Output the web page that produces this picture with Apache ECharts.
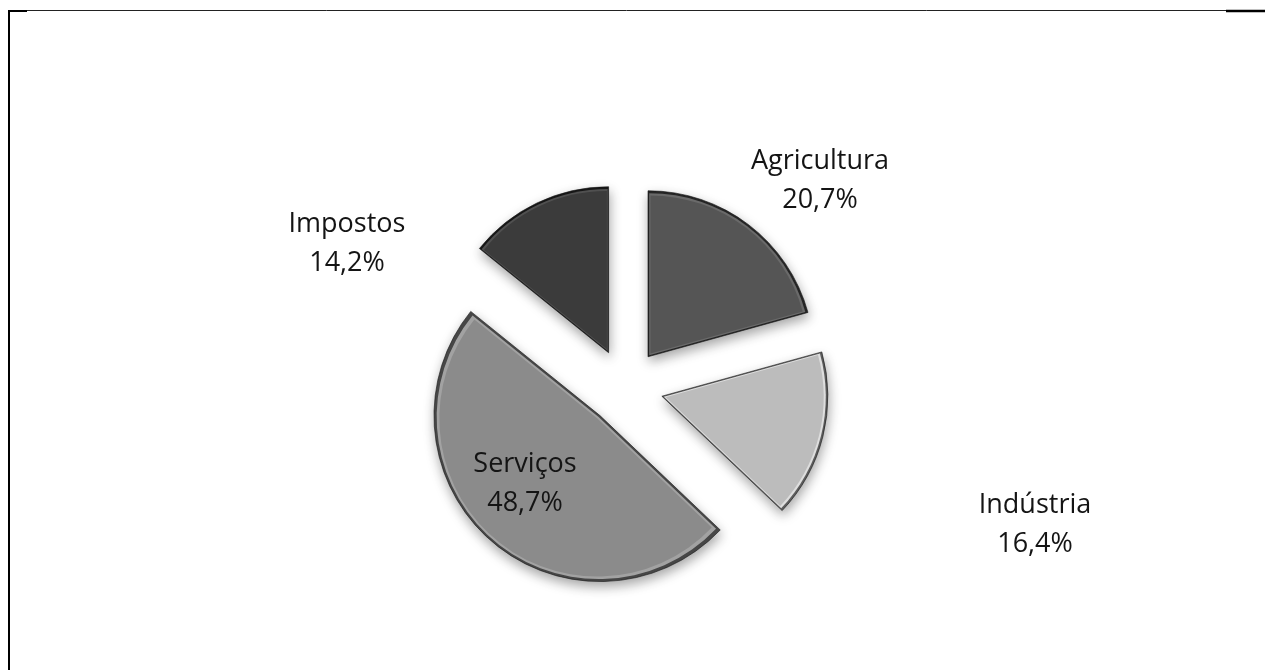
<!DOCTYPE html>
<html>
<head>
<meta charset="utf-8">
<title>Composição do PIB</title>
<script src="https://cdn.jsdelivr.net/npm/echarts@6/dist/echarts.min.js"></script>
<style>
  html, body { margin: 0; padding: 0; background: #ffffff; }
  #chart { width: 1265px; height: 670px; }
</style>
</head>
<body>
<div id="chart"></div>
<script>
// Sectors, clockwise from 12 o'clock
var categories = ['Agricultura', 'Indústria', 'Serviços', 'Impostos'];
var shares = [20.7, 16.4, 48.7, 14.2];

// Per-sector greys: outer rim, highlight band, face
var rims = ['#262626', '#5e5e5e', '#474747', '#171717'];
var bands = ['#6a6a6a', '#dedede', '#a2a2a2', '#505050'];
var faces = ['#555555', '#bcbcbc', '#8b8b8b', '#3b3b3b'];

// Caption anchors (page pixels), one per sector
var captionAnchors = [[820, 181], [1035, 525], [525, 484], [347, 244]];

var CENTER = [625, 387];
var RADIUS = 166;
var EXPLODE = 38;

function pct(v) {
  return v.toFixed(1).replace('.', ',') + '%';
}

function sectorData(colors, extra) {
  return categories.map(function (name, i) {
    var style = Object.assign({ color: colors[i] }, extra(i));
    return {
      name: name,
      value: shares[i],
      selected: true,
      itemStyle: style,
      select: { itemStyle: style }
    };
  });
}

function layer(radius, offset, colors, extra) {
  return {
    type: 'pie',
    center: CENTER,
    radius: radius,
    startAngle: 90,
    clockwise: true,
    selectedMode: 'multiple',
    selectedOffset: offset,
    silent: true,
    emphasis: { disabled: true, scale: false },
    label: { show: false },
    labelLine: { show: false },
    data: sectorData(colors, extra)
  };
}

// Outer rim with drop shadow, a lighter band, then the inset face
var rimSeries = layer(RADIUS, EXPLODE, rims, function () {
  return {
    borderColor: '#151515',
    borderWidth: 0.6,
    shadowBlur: 12,
    shadowOffsetX: 1,
    shadowOffsetY: 5,
    shadowColor: 'rgba(0,0,0,0.35)'
  };
});
var bandSeries = layer(RADIUS - 4, EXPLODE + 2, bands, function () { return {}; });
var faceSeries = layer(RADIUS - 8, EXPLODE + 4, faces, function () { return {}; });

var captions = categories.map(function (name, i) {
  return {
    type: 'text',
    x: captionAnchors[i][0],
    y: captionAnchors[i][1],
    silent: true,
    z: 10,
    style: {
      text: name + '\n' + pct(shares[i]),
      align: 'center',
      verticalAlign: 'middle',
      fill: '#141414',
      fontFamily: 'Open Sans',
      fontSize: 27,
      lineHeight: 39
    }
  };
});

var frame = [
  { type: 'line', shape: { x1: 9, y1: 10, x2: 9, y2: 670 }, style: { stroke: '#000', lineWidth: 2 } },
  { type: 'line', shape: { x1: 8, y1: 11, x2: 27, y2: 11 }, style: { stroke: '#000', lineWidth: 2 } },
  { type: 'line', shape: { x1: 27, y1: 10.5, x2: 1226, y2: 10.5 }, style: { stroke: '#222', lineWidth: 1 } },
  { type: 'line', shape: { x1: 1226, y1: 11, x2: 1265, y2: 11 }, style: { stroke: '#000', lineWidth: 2.5 } }
];

var chart = echarts.init(document.getElementById('chart'), null, { renderer: 'canvas' });
chart.setOption({
  backgroundColor: '#ffffff',
  animation: false,
  graphic: frame.concat(captions),
  series: [rimSeries, bandSeries, faceSeries]
});
</script>
</body>
</html>
